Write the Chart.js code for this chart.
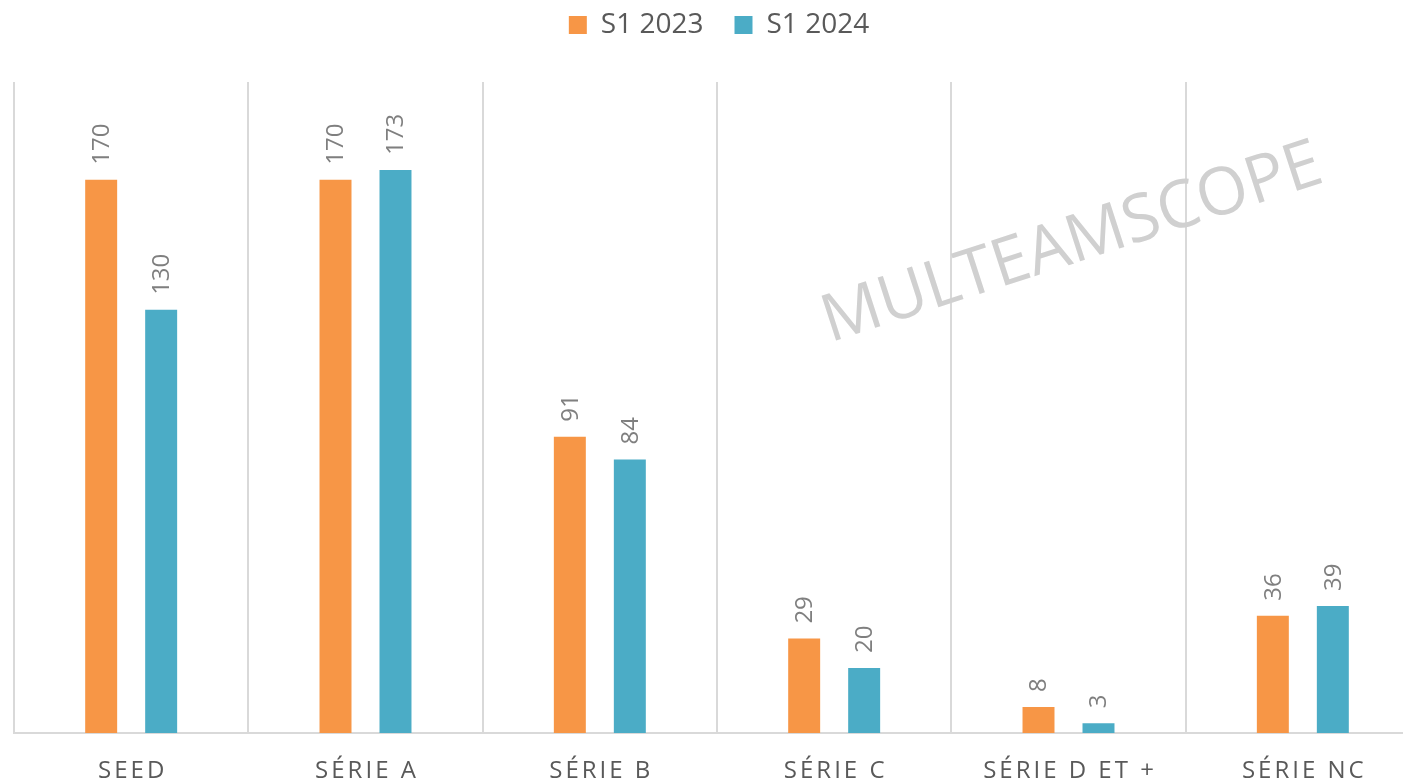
<!DOCTYPE html>
<html>
<head>
<meta charset="utf-8">
<script src="https://cdn.jsdelivr.net/npm/chart.js@4.4.1/dist/chart.umd.min.js"></script>
<style>
  html, body { margin: 0; padding: 0; background: #ffffff; overflow: hidden; }
  #wrap { position: relative; width: 1421px; height: 783px; }
</style>
</head>
<body>
<div id="wrap"><canvas id="c"></canvas></div>
<script>
const categories = ['SEED', 'SÉRIE A', 'SÉRIE B', 'SÉRIE C', 'SÉRIE D ET +', 'SÉRIE NC'];
const seriesNames = ['S1 2023', 'S1 2024'];
const values2023 = [170, 170, 91, 29, 8, 36];
const values2024 = [130, 173, 84, 20, 3, 39];
const watermarkText = 'MULTEAMSCOPE';

const FONT = "'Open Sans', 'DejaVu Sans', sans-serif";

const legendSpacer = {
  id: 'legendSpacer',
  beforeInit(chart) {
    const lg = chart.legend;
    const origFit = lg.fit;
    lg.fit = function () {
      origFit.bind(lg)();
      this.height += 33;
    };
    const origDraw = lg.draw;
    lg.draw = function () {
      const ctx = this.ctx;
      ctx.save();
      ctx.translate(2, 0);
      origDraw.apply(lg, arguments);
      ctx.restore();
    };
  }
};

const axisLetterSpacing = {
  id: 'axisLetterSpacing',
  beforeDraw(chart) {
    const s = chart.scales.x;
    if (s && !s._lsWrapped) {
      const orig = s.drawLabels.bind(s);
      s.drawLabels = function (ca) {
        const ctx = this.ctx;
        ctx.save();
        ctx.letterSpacing = '3px';
        ctx.translate(1.5, 0);
        orig(ca);
        ctx.restore();
      };
      s._lsWrapped = true;
    }
  }
};

const valueLabels = {
  id: 'valueLabels',
  afterDatasetsDraw(chart) {
    const ctx = chart.ctx;
    ctx.save();
    ctx.font = "24px " + FONT;
    ctx.fillStyle = '#7f7f7f';
    ctx.textAlign = 'left';
    ctx.textBaseline = 'middle';
    chart.data.datasets.forEach((ds, i) => {
      const meta = chart.getDatasetMeta(i);
      meta.data.forEach((bar, j) => {
        ctx.save();
        ctx.translate(bar.x + 1, bar.y - 15);
        ctx.rotate(-Math.PI / 2);
        ctx.fillText(String(ds.data[j]), 0, 0);
        ctx.restore();
      });
    });
    ctx.restore();
  }
};

const watermark = {
  id: 'watermark',
  afterDraw(chart) {
    const ctx = chart.ctx;
    ctx.save();
    ctx.font = "66px " + FONT;
    ctx.fillStyle = '#d0d0d0';
    ctx.textAlign = 'center';
    ctx.textBaseline = 'alphabetic';
    ctx.translate(1078, 262);
    ctx.rotate(-18 * Math.PI / 180);
    ctx.fillText(watermarkText, 0, 0);
    ctx.restore();
  }
};

new Chart(document.getElementById('c'), {
  type: 'bar',
  data: {
    labels: categories,
    datasets: [
      { label: seriesNames[0], data: values2023, backgroundColor: '#F79646', borderWidth: 0 },
      { label: seriesNames[1], data: values2024, backgroundColor: '#4BACC6', borderWidth: 0 }
    ]
  },
  options: {
    responsive: true,
    maintainAspectRatio: false,
    animation: false,
    layout: { padding: { left: 14, right: 1, top: -20, bottom: 0 } },
    datasets: { bar: { categoryPercentage: 0.512, barPercentage: 0.533 } },
    plugins: {
      tooltip: { enabled: false },
      legend: {
        display: true,
        position: 'top',
        labels: {
          boxWidth: 18,
          boxHeight: 18,
          padding: 31,
          color: '#595959',
          font: { family: FONT, size: 28 }
        }
      }
    },
    scales: {
      x: {
        afterFit(scale) { scale.height = 50; },
        grid: { display: true, drawTicks: false, color: '#d9d9d9', lineWidth: 2, offset: true },
        border: { display: true, color: '#d9d9d9', width: 2 },
        ticks: { color: '#595959', padding: 24, font: { family: FONT, size: 24 }, maxRotation: 0 }
      },
      y: {
        display: false,
        min: 0,
        max: 200
      }
    }
  },
  plugins: [legendSpacer, axisLetterSpacing, valueLabels, watermark]
});
</script>
</body>
</html>
